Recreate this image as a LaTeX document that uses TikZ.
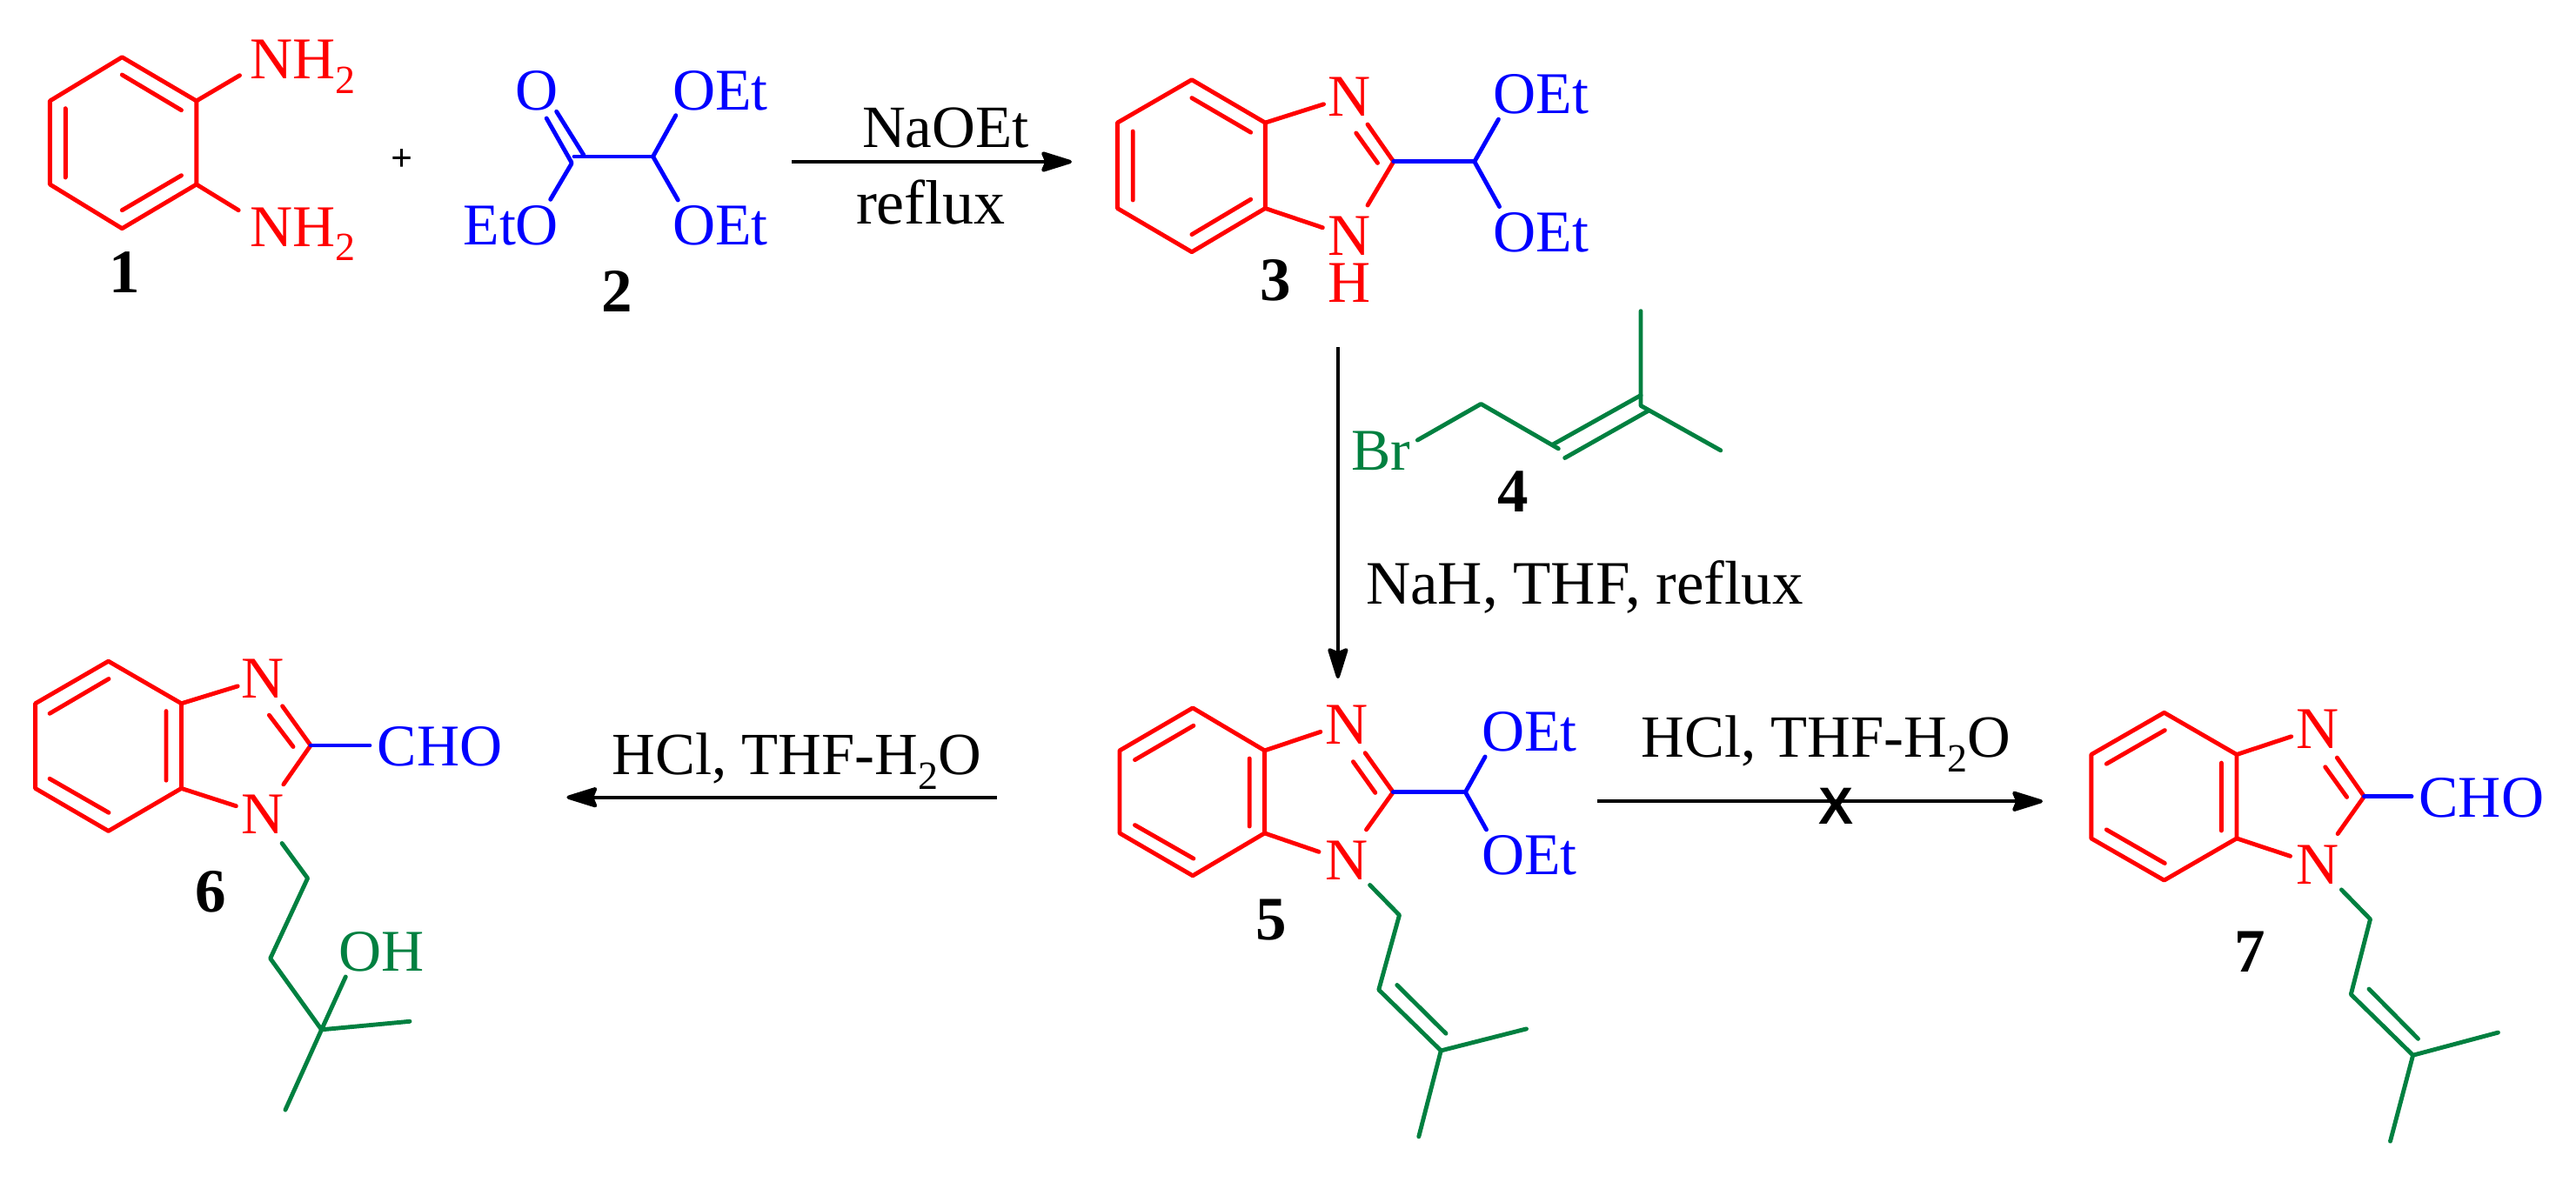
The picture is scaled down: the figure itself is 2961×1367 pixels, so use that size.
\documentclass[tikz,border=0pt]{standalone}
\usepackage{fontspec}
\setmainfont{Liberation Serif}
\newfontfamily\xfont{Liberation Sans}
\usetikzlibrary{arrows.meta}
\definecolor{cred}{RGB}{255,0,0}
\definecolor{cblue}{RGB}{0,0,255}
\definecolor{cgreen}{RGB}{0,128,64}
\newcommand{\subn}[1]{\raisebox{-16.5pt}{\fontsize{46}{46}\selectfont #1}}
\newcommand{\fsz}[1]{\fontsize{#1}{#1}\selectfont}
\tikzset{
  bond/.style={line width=4.9pt,line cap=round,line join=round},
  rb/.style={bond,draw=cred},
  bb/.style={bond,draw=cblue},
  gb/.style={bond,draw=cgreen},
  txt/.style={inner sep=0pt,outer sep=0pt,font=\fontsize{68}{68}\selectfont},
  lw/.style={txt,anchor=base west},
  lc/.style={txt,anchor=base},
  num/.style={inner sep=0pt,outer sep=0pt,anchor=base,font=\fontsize{71}{71}\selectfont\bfseries},
  rx/.style={line width=4.2pt,draw=black,-{Stealth[length=41pt,width=25pt,inset=5pt,round]},shorten >=0pt},
}
\begin{document}
\begin{tikzpicture}[x=1pt,y=-1pt]
\useasboundingbox (0,0) rectangle (2961,1367);
\fill[white] (0,0) rectangle (2961,1367);
% ---------- 1
\draw[rb] (140.3,65.7)--(225.8,116)--(225.8,212)--(140.3,262.7)--(57.4,212)--(57.4,116)--cycle;
\draw[rb] (140.3,86)--(208.5,126.7) (75.3,124.7)--(75.3,204) (208.5,201.7)--(140.3,241.7);
\draw[rb] (225.8,116)--(275.5,86.7) (225.8,212)--(274.2,241.7);
\node[lw,text=cred] (a1) at (287,90.7) {NH\subn{2}};
\node[lw,text=cred] (a2) at (287,283.3) {NH\subn{2}};
\node[num] (m1) at (143.5,336.7) {1};
\node[inner sep=0pt,font=\fontsize{44}{44}\selectfont\bfseries] (plus) at (462.4,184) {+};
% ---------- 2
\draw[bb] (639.7,128.3)--(670.9,178.3) (628.2,136)--(656.9,186.7);
\draw[bb] (656.9,188.3)--(632.7,229.3);
\draw[bb] (660,180)--(750.6,180);
\draw[bb] (776.8,132.7)--(750.6,180)--(779.3,230);
\node[lc,text=cblue] (b1) at (617.5,126.7) {O};
\node[lw,text=cblue] (b2) at (773,126.7) {OEt};
\node[lw,text=cblue] (b3) at (532.5,281) {EtO};
\node[lw,text=cblue] (b4) at (773,281) {OEt};
\node[num] (m2) at (709,358) {2};
% ---------- arrow 1
\coordinate (r1s) at (910,186);
\coordinate (r1e) at (1232,186);
\draw[rx] (r1s)--(r1e);
\node[lw] (t1) at (991,170) {\fsz{69}NaOEt};
\node[lw] (t2) at (984,258) {\fsz{72}ref\kern0ptlux};
% ---------- 3
\draw[rb] (1369.9,91.7)--(1454.3,141.1)--(1454.3,239.5)--(1369.9,289.7)--(1284.4,239.5)--(1284.4,141.1)--cycle;
\draw[rb] (1369.9,112.6)--(1437.7,152.2) (1302.2,151)--(1302.2,230) (1437.7,229.2)--(1369.9,269.6);
\draw[rb] (1454.3,141.1)--(1521.5,119.8) (1454.3,239.5)--(1520.3,261.7);
\draw[rb] (1572,143.1)--(1601.8,185.8)--(1572,236) (1558.8,153)--(1583.5,187.4);
\draw[bb] (1601.8,185.8)--(1694.8,185.8);
\draw[bb] (1722.4,137.2)--(1694.8,185.8)--(1723.5,237.5);
\node[lc,text=cred] (c1) at (1551,133.6) {N};
\node[lc,text=cred] (c2) at (1551,293.3) {N};
\node[lc,text=cred] (c3) at (1551,347) {H};
\node[lw,text=cblue] (c4) at (1716.7,131) {OEt};
\node[lw,text=cblue] (c5) at (1716.7,289.3) {OEt};
\node[num] (m3) at (1465.8,345.8) {3};
% ---------- 4
\draw[gb] (1629.4,506)--(1702.3,464.4)--(1791.3,515.8);
\draw[gb] (1785.5,510.7)--(1886,454.5) (1798.7,526.5)--(1894.6,472.3);
\draw[gb] (1886,357.7)--(1886,466.4)--(1977.8,517.8);
\node[lw,text=cgreen] (d1) at (1553,540) {Br};
\node[num] (m4) at (1739.6,588) {4};
% ---------- arrow 2
\coordinate (r2s) at (1537.9,399);
\coordinate (r2e) at (1537.9,780);
\draw[rx] (r2s)--(r2e);
\node[lw] (t3) at (1570,694) {\fsz{71}NaH, THF, ref\kern0ptlux};
% ---------- 6
\draw[rb] (124.6,760.2)--(208.5,808.8)--(208.5,906.4)--(124.6,955.4)--(40.6,906.4)--(40.6,808.8)--cycle;
\draw[rb] (57.1,820.3)--(125,780.5) (191,817.6)--(191,897.2) (57.1,895.3)--(125,934.3);
\draw[rb] (208.5,808.8)--(273.2,788.9) (208.5,906.4)--(271.4,926.7);
\draw[rb] (324.6,811.8)--(357.1,857)--(325.9,901.8) (309.4,822.2)--(337,858.5);
\draw[bb] (357.1,857)--(425,857);
\node[lc,text=cred] (e1) at (302,802.7) {N};
\node[lc,text=cred] (e2) at (302,958) {N};
\node[lw,text=cblue] (e3) at (433.9,880.7) {CHO};
\draw[gb] (324.1,969.5)--(353.6,1009.7)--(310.7,1101.9)--(369.6,1183.8);
\draw[gb] (397.3,1123)--(369.6,1183.8)--(471,1174.3) (369.6,1183.8)--(328,1276);
\node[lw,text=cgreen] (e4) at (389.7,1116) {OH};
\node[num] (m6) at (242,1048.4) {6};
% ---------- arrow 3
\coordinate (r3s) at (1145.5,916.7);
\coordinate (r3e) at (651.4,916.7);
\draw[rx] (r3s)--(r3e);
\node[lw] (t4) at (703.7,890.7) {\fsz{68.8}HCl, THF-H\subn{2}O};
% ---------- 5
\draw[rb] (1371,813.9)--(1453.6,862.9)--(1453.6,957.9)--(1371,1006.8)--(1287,957.9)--(1287,862.9)--cycle;
\draw[rb] (1304.5,873.6)--(1371.9,834.3) (1436.2,872.1)--(1436.2,950) (1304.5,948.6)--(1371.9,987.1);
\draw[rb] (1453.6,862.9)--(1517.9,841.4) (1453.6,957.9)--(1516,979.3);
\draw[rb] (1569.2,865.7)--(1601.3,910.7)--(1570.5,953.9) (1555.4,875.7)--(1580.8,911.4);
\draw[bb] (1601.3,910.7)--(1684.4,910.7);
\draw[bb] (1707.1,870)--(1684.4,910.7)--(1708.5,953.9);
\node[lc,text=cred] (f1) at (1547.8,855.7) {N};
\node[lc,text=cred] (f2) at (1547.8,1011.4) {N};
\node[lw,text=cblue] (f3) at (1703,863.9) {OEt};
\node[lw,text=cblue] (f4) at (1703,1005) {OEt};
\draw[gb] (1574.6,1017.5)--(1608.5,1052.1)--(1584.8,1137.9)--(1656.3,1207.9)--(1754.5,1182.9);
\draw[gb] (1605.8,1132.5)--(1662,1188.2) (1656.3,1207.9)--(1630.8,1306.8);
\node[num] (m5) at (1461,1080) {5};
% ---------- arrow 4
\coordinate (r4s) at (1836,921.3);
\coordinate (r4e) at (2348,921.3);
\draw[rx] (r4s)--(r4e);
\node[lw] (t5) at (1886.8,870.7) {\fsz{68.8}HCl, THF-H\subn{2}O};
\node[inner sep=0pt,anchor=base,font=\xfont\bfseries\fontsize{60}{60}\selectfont] (xx) at (2110,947.7) {X};
% ---------- 7
\draw[rb] (2487.6,819.3)--(2571,867.5)--(2571,963.9)--(2487.6,1012.1)--(2403.8,963.9)--(2403.8,867.5)--cycle;
\draw[rb] (2421.3,878.2)--(2488.3,839.6) (2553.4,877.1)--(2553.4,955) (2421.3,953.9)--(2488.3,992.5);
\draw[rb] (2571,867.5)--(2633.7,846.8) (2571,963.9)--(2632.5,984.3);
\draw[rb] (2686.3,871.1)--(2717.5,915.7)--(2687.1,958.6) (2672.7,881.8)--(2697.6,916.4);
\draw[bb] (2717.5,915.7)--(2772,915.7);
\node[lc,text=cred] (g1) at (2664.1,860.4) {N};
\node[lc,text=cred] (g2) at (2664.1,1016.4) {N};
\node[lw,text=cblue] (g3) at (2780.6,939.6) {CHO};
\draw[gb] (2691.4,1022.9)--(2724.5,1056.8)--(2702.3,1143.2)--(2773.6,1213.2)--(2871.4,1187.1);
\draw[gb] (2723,1137.1)--(2779.5,1194.3) (2773.6,1213.2)--(2747.5,1312.1);
\node[num] (m7) at (2586.2,1117.5) {7};
\end{tikzpicture}
\end{document}
